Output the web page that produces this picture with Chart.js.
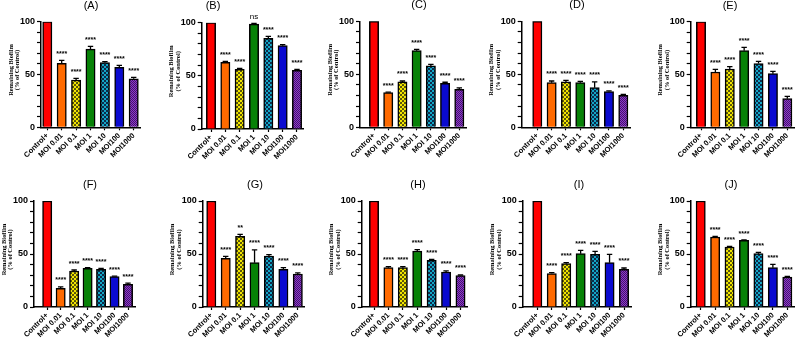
<!DOCTYPE html>
<html>
<head>
<meta charset="utf-8">
<script src="https://cdn.jsdelivr.net/npm/chart.js@4.4.1/dist/chart.umd.min.js"></script>
<style>
  html, body { margin: 0; padding: 0; background: #fff; }
  #wrap { position: relative; width: 798px; height: 342px; overflow: hidden; }
  #wrap canvas { position: absolute; left: 0; top: 0; }
</style>
</head>
<body>
<div id="wrap"></div>
<script>
const categories = ["Control+", "MOI 0.01", "MOI 0.1", "MOI 1", "MOI 10", "MOI100", "MOI1000"];
const yTickLabels = [0, 50, 100];

// remaining biofilm (% of control), mean and error per panel
const biofilmA = [100, 60.6, 44.8, 74.1, 61.2, 56.8, 46.0];
const errorA   = [0, 2.8, 1.6, 2.5, 0.9, 1.9, 1.3];
const biofilmB = [100, 62.7, 56.1, 98.7, 85.3, 78.4, 55.2];
const errorB   = [0, 0.9, 0.9, 0.7, 1.8, 0.9, 0.9];
const biofilmC = [100, 32.7, 42.8, 72.3, 57.9, 41.5, 35.8];
const errorC   = [0, 0.4, 0.9, 1.3, 1.5, 1.0, 1.3];
const biofilmD = [100, 42.1, 42.8, 42.1, 37.4, 33.6, 30.2];
const errorD   = [0, 1.6, 1.5, 1.3, 5.4, 0.7, 0.9];
const biofilmE = [100, 52.4, 55.2, 72.6, 60.3, 50.8, 27.1];
const errorE   = [0, 2.5, 2.2, 3.1, 2.2, 2.2, 2.2];
const biofilmF = [100, 17.6, 34.0, 36.5, 35.5, 28.6, 21.4];
const errorF   = [0, 1.3, 0.9, 0.6, 1.0, 0.6, 1.2];
const biofilmG = [100, 45.9, 66.7, 41.8, 48.1, 35.5, 31.1];
const errorG   = [0, 1.9, 1.9, 12.0, 1.3, 1.6, 1.0];
const biofilmH = [100, 37.1, 37.1, 52.8, 44.0, 33.0, 29.6];
const errorH   = [0, 0.9, 0.9, 1.3, 0.9, 1.0, 0.6];
const biofilmI = [100, 31.5, 40.9, 50.3, 49.7, 41.8, 35.5];
const errorI   = [0, 0.9, 0.9, 3.2, 2.8, 7.9, 1.3];
const biofilmJ = [100, 66.0, 56.6, 62.9, 50.3, 37.1, 28.3];
const errorJ   = [0, 0.7, 0.6, 0.3, 1.3, 3.2, 0.6];

// significance vs control
const sigAll = ["", "****", "****", "****", "****", "****", "****"];
const sigB   = ["", "****", "****", "ns", "****", "****", "****"];
const sigG   = ["", "****", "**", "****", "****", "****", "****"];

// where each panel sits on the page
const panels = [
  { title: "(A)", values: biofilmA, errors: errorA, sig: sigAll, axisX: 41,    firstC: 47.3,  lastC: 133.7, y100: 21.7,  y0: 127.3, tx: 91,  ty: 6 },
  { title: "(B)", values: biofilmB, errors: errorB, sig: sigB,   axisX: 201.7, firstC: 211,   lastC: 297,   y100: 22.7,  y0: 129,   tx: 213, ty: 6 },
  { title: "(C)", values: biofilmC, errors: errorC, sig: sigAll, axisX: 360,   firstC: 374,   lastC: 459.3, y100: 21.3,  y0: 127.3, tx: 419, ty: 5 },
  { title: "(D)", values: biofilmD, errors: errorD, sig: sigAll, axisX: 521.7, firstC: 537.3, lastC: 623.3, y100: 21.3,  y0: 127.3, tx: 577, ty: 5 },
  { title: "(E)", values: biofilmE, errors: errorE, sig: sigAll, axisX: 690.7, firstC: 701,   lastC: 787.3, y100: 21.7,  y0: 127.3, tx: 730, ty: 6 },
  { title: "(F)", values: biofilmF, errors: errorF, sig: sigAll, axisX: 34,    firstC: 47.2,  lastC: 128,   y100: 201,   y0: 307,   tx: 90,  ty: 185 },
  { title: "(G)", values: biofilmG, errors: errorG, sig: sigG,   axisX: 202.7, firstC: 211.3, lastC: 297.8, y100: 201,   y0: 307,   tx: 255, ty: 185 },
  { title: "(H)", values: biofilmH, errors: errorH, sig: sigAll, axisX: 361.7, firstC: 374,   lastC: 460.5, y100: 201,   y0: 307,   tx: 418, ty: 185 },
  { title: "(I)", values: biofilmI, errors: errorI, sig: sigAll, axisX: 522.7, firstC: 537.3, lastC: 624,   y100: 201,   y0: 307,   tx: 579, ty: 185 },
  { title: "(J)", values: biofilmJ, errors: errorJ, sig: sigAll, axisX: 690.7, firstC: 700.7, lastC: 787.3, y100: 201,   y0: 307,   tx: 731, ty: 185 }
];

const W = 798, H = 342;

function makeTile(size, draw) {
  const c = document.createElement("canvas");
  c.width = size; c.height = size;
  const g = c.getContext("2d");
  draw(g);
  return g.createPattern(c, "repeat");
}

const yellowDots = makeTile(4, g => {
  g.fillStyle = "#111"; g.fillRect(0, 0, 4, 4);
  g.fillStyle = "#f2e600";
  [[1, 1], [3, 3], [-1, 3], [3, -1], [5, 1], [1, 5]].forEach(([x, y]) => {
    g.beginPath(); g.arc(x, y, 1.35, 0, Math.PI * 2); g.fill();
  });
});
const tealCheck = makeTile(4, g => {
  g.fillStyle = "#13a6c6"; g.fillRect(0, 0, 4, 4);
  g.fillStyle = "#0c2c4c"; g.fillRect(0, 0, 2, 2); g.fillRect(2, 2, 2, 2);
});
const purpleCheck = makeTile(2, g => {
  g.fillStyle = "#8a3cc8"; g.fillRect(0, 0, 2, 2);
  g.fillStyle = "#47106f"; g.fillRect(0, 0, 1, 1); g.fillRect(1, 1, 1, 1);
});

const barFills = ["#ff0000", "#ff6a00", yellowDots, "#078207", tealCheck, "#0a0ad0", purpleCheck];

const panelDecor = {
  id: "panelDecor",
  afterDatasetsDraw(chart, args, opts) {
    const ctx = chart.ctx;
    const y = chart.scales.y;
    const meta = chart.getDatasetMeta(0);
    const data = chart.data.datasets[0].data;
    ctx.save();
    meta.data.forEach((bar, i) => {
      const e = opts.errors[i];
      const top = y.getPixelForValue(data[i].y + e);
      if (e > 0) {
        ctx.strokeStyle = "#000";
        ctx.lineWidth = 1.3;
        ctx.beginPath();
        ctx.moveTo(bar.x, bar.y);
        ctx.lineTo(bar.x, top);
        ctx.moveTo(bar.x - 2.7, top);
        ctx.lineTo(bar.x + 2.7, top);
        ctx.stroke();
      }
      const s = opts.sig[i];
      if (s) {
        ctx.fillStyle = "#000";
        ctx.textAlign = "center";
        ctx.textBaseline = "alphabetic";
        ctx.font = s === "ns" ? "8px 'Liberation Sans', Arial" : "bold 7px 'Liberation Sans', Arial";
        ctx.fillText(s, bar.x, top - (s === "ns" ? 4 : 4.5));
      }
    });
    ctx.restore();
  },
  afterDraw(chart, args, opts) {
    const ctx = chart.ctx;
    const area = chart.chartArea;
    ctx.save();
    ctx.fillStyle = "#000";
    ctx.textAlign = "center";
    ctx.textBaseline = "middle";
    ctx.font = "11px 'Liberation Sans', Arial";
    ctx.fillText(opts.title, opts.tx, opts.ty);
    ctx.restore();

    const midY = (area.top + area.bottom) / 2 - 4.5;
    [["Remaining Biofilm", 30], ["(% of Control)", 23.8]].forEach(([txt, dx]) => {
      ctx.save();
      ctx.fillStyle = "#000";
      ctx.textAlign = "center";
      ctx.textBaseline = "middle";
      ctx.font = "bold 6.4px 'Liberation Serif', 'Times New Roman', serif";
      ctx.translate(area.left - dx, midY);
      ctx.rotate(-Math.PI / 2);
      ctx.fillText(txt, 0, 0);
      ctx.restore();
    });
  }
};

const wrap = document.getElementById("wrap");

panels.forEach(p => {
  const canvas = document.createElement("canvas");
  canvas.width = W; canvas.height = H;
  wrap.appendChild(canvas);

  const step = (p.lastC - p.firstC) / (categories.length - 1);
  const axisEnd = p.lastC + 7;
  const xMin = -(p.firstC - p.axisX) / step;
  const xMax = (categories.length - 1) + (axisEnd - p.lastC) / step;

  new Chart(canvas.getContext("2d"), {
    type: "bar",
    data: {
      datasets: [{
        data: p.values.map((v, i) => ({ x: i, y: v })),
        backgroundColor: barFills,
        borderColor: "#000",
        borderWidth: 1.5,
        barThickness: 9.3
      }]
    },
    options: {
      responsive: false,
      animation: false,
      devicePixelRatio: 1,
      layout: { padding: { left: 0, top: p.y100, right: W - axisEnd, bottom: 0 } },
      plugins: {
        legend: { display: false },
        tooltip: { enabled: false },
        panelDecor: { title: p.title, tx: p.tx, ty: p.ty, errors: p.errors, sig: p.sig }
      },
      scales: {
        x: {
          type: "linear",
          min: xMin,
          max: xMax,
          offset: false,
          afterBuildTicks: s => { s.ticks = categories.map((c, i) => ({ value: i })); },
          afterFit: s => { s.height = H - p.y0; },
          grid: { drawOnChartArea: false, offset: false, tickLength: 3, color: "#000", tickWidth: 1.2 },
          border: { color: "#000", width: 1.5 },
          ticks: {
            autoSkip: false,
            maxRotation: 45,
            minRotation: 45,
            padding: 1,
            color: "#000",
            font: { family: "'Liberation Sans', Arial", size: 7.5, weight: "bold" },
            callback: v => categories[v]
          }
        },
        y: {
          min: 0,
          max: 100,
          afterFit: s => { s.width = p.axisX; },
          grid: { drawOnChartArea: false, tickLength: 4, color: "#000", tickWidth: 1.2 },
          border: { color: "#000", width: 1.5 },
          ticks: {
            stepSize: 10,
            autoSkip: false,
            padding: 2,
            color: "#000",
            font: { family: "'Liberation Sans', Arial", size: 9, weight: "bold" },
            callback: v => yTickLabels.includes(v) ? String(v) : ""
          }
        }
      }
    },
    plugins: [panelDecor]
  });
});
</script>
</body>
</html>
